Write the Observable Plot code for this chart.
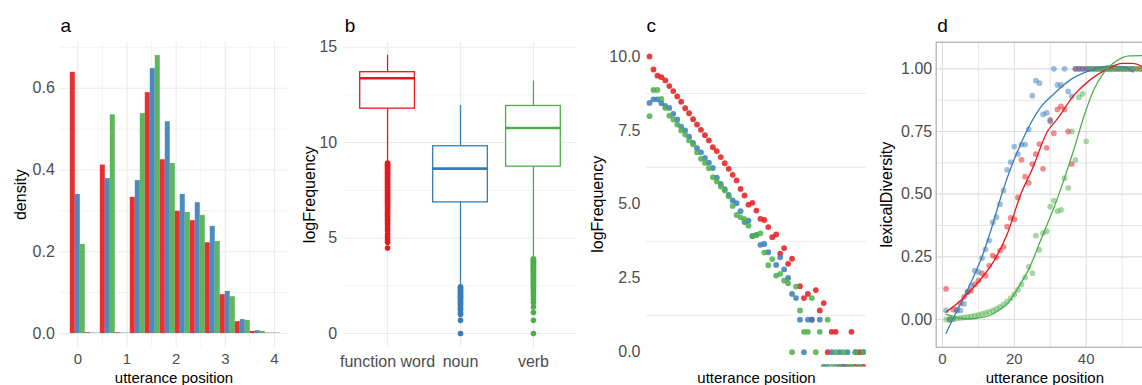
<!DOCTYPE html>
<html><head><meta charset="utf-8">
<script src="https://cdn.jsdelivr.net/npm/d3@7"></script>
<script src="https://cdn.jsdelivr.net/npm/@observablehq/plot@0.6"></script>
<style>
html,body{margin:0;padding:0;background:#fff;overflow:hidden;}
#chart{position:relative;width:1142px;height:385px;overflow:hidden;background:#fff;}
#chart svg{position:absolute;top:0;max-width:none;}
</style></head><body><div id="chart"></div>
<script>
// ---------- shared ----------
const categories = ["function word", "noun", "verb"];
const colors = ["#E41A1C", "#377EB8", "#4DAF4A"];

// ---------- panel a : density histogram ----------
const binCenters = [0, 0.305, 0.61, 0.915, 1.22, 1.525, 1.83, 2.135, 2.44, 2.745, 3.05, 3.355, 3.66, 3.965];
const binWidth = 0.305;
const densFunctionWord = [0.639, 0.002, 0.412, 0.002, 0.333, 0.589, 0.425, 0.299, 0.276, 0.222, 0.095, 0.029, 0.005, 0.001];
const densNoun         = [0.340, 0.001, 0.379, 0.001, 0.374, 0.648, 0.518, 0.340, 0.320, 0.262, 0.103, 0.034, 0.007, 0.001];
const densVerb         = [0.218, 0.001, 0.535, 0.001, 0.538, 0.680, 0.416, 0.296, 0.289, 0.225, 0.090, 0.032, 0.005, 0.001];
const aXTicks = [0, 1, 2, 3, 4];
const aYTicks = [0, 0.2, 0.4, 0.6];

// ---------- panel b : boxplots ----------
const boxQ1 = [11.78, 6.87, 8.74];
const boxMedian = [13.37, 8.64, 10.77];
const boxQ3 = [13.69, 9.81, 11.92];
const whiskerLow = [9.0, 2.52, 4.0];
const whiskerHigh = [14.58, 11.94, 13.23];
const outliersFunctionWord = [8.93, 8.86, 8.8, 8.74, 8.67, 8.6, 8.52, 8.45, 8.38, 8.3, 8.22, 8.14, 8.06, 7.98, 7.9, 7.82, 7.74, 7.66, 7.58, 7.5, 7.42, 7.34, 7.26, 7.18, 7.1, 7.02, 6.94, 6.86, 6.78, 6.7, 6.6, 6.5, 6.4, 6.3, 6.2, 6.1, 6.0, 5.9, 5.78, 5.65, 5.5, 5.38, 5.2, 5.05, 4.9, 4.78, 4.48];
const outliersNoun = [2.45, 2.39, 2.33, 2.27, 2.2, 2.14, 2.08, 2.0, 1.95, 1.9, 1.83, 1.77, 1.7, 1.61, 1.55, 1.5, 1.39, 1.3, 1.25, 1.1, 1.0, 0.69, 0];
const outliersVerb = [3.92, 3.87, 3.82, 3.77, 3.71, 3.66, 3.6, 3.54, 3.48, 3.42, 3.36, 3.3, 3.23, 3.17, 3.1, 3.04, 2.97, 2.9, 2.83, 2.77, 2.7, 2.63, 2.56, 2.48, 2.4, 2.3, 2.2, 2.08, 1.95, 1.79, 1.61, 1.39, 1.1, 0.69, 0];
const bYTicks = [0, 5, 10, 15];

// ---------- panel c : logFrequency by utterance position ----------
const cPositions = d3.range(1, 56);
const cFunctionWord = [10.0, 9.56, 9.35, 9.3, 9.19, 9.0, 8.83, 8.65, 8.47, 8.25,
  8.08, 7.88, 7.7, 7.52, 7.34, 7.16, 6.93, 6.8, 6.6, 6.39,
  6.2, 6.0, 5.81, 5.52, 5.3, 4.99, 5.05, 4.79, 4.51, 4.47,
  4.23, 3.89, 3.98, 3.33, 3.52, 2.99, 3.16, null, 2.23, 1.83,
  1.97, 1.1, 2.1, 1.41, 1.66, 0, 0.69, 0.69, -Infinity, -Infinity,
  -Infinity, 0.69, -Infinity, 0, -Infinity];
const cNoun = [8.43, 8.55, 8.55, 8.42, 8.33, 8.26, 8.06, 7.87, 7.63, 7.5,
  7.29, 7.08, 6.9, 6.76, 6.57, 6.41, 6.23, 5.9, 5.69, 5.51,
  5.32, 5.13, 5.04, 4.77, 4.4, 4.45, 3.93, 3.97, 3.63, 3.66,
  3.38, null, 2.95, 3.21, 2.8, 2.51, 1.97, 1.83, 1.1, 0,
  1.1, 1.1, null, 1.1, -Infinity, -Infinity, 0, -Infinity, 0, -Infinity,
  0, -Infinity, 0, -Infinity, 0];
const cVerb = [7.98, 8.87, 8.87, 8.57, 8.26, 8.0, 7.87, 7.7, 7.5, 7.36,
  7.16, 7.03, 6.76, 6.54, 6.4, 6.22, 5.92, 5.77, 5.6, 5.47,
  5.27, 4.94, 4.64, 4.56, 4.5, 4.28, 3.92, 3.96, 4.02, 3.37,
  2.94, 3.15, 2.59, 2.65, 2.42, 2.33, 0, 2.22, 1.41, 0.69,
  0.69, 1.83, 0, 0.69, -Infinity, 1.1, -Infinity, 0, -Infinity, 0,
  -Infinity, -Infinity, 0, -Infinity, 0];
const cYTicks = [0, 2.5, 5, 7.5, 10];
const cGridLines = [1.25, 3.75, 6.25, 8.75];

// ---------- panel d : lexical diversity ----------
const dPositions = d3.range(1, 57);
const dFunctionWord = [0.122, 0.0, 0.04, 0.038, 0.065, 0.09, 0.11, 0.115, 0.14, 0.155,
  0.185, 0.175, 0.215, 0.255, 0.248, 0.275, 0.29, 0.37, 0.405, 0.4,
  0.487, 0.637, 0.57, 0.545, 0.62, 0.66, 0.7, 0.601, 0.685, 0.796,
  0.743, 0.838, 0.85, 0.838, 0.75, 0.62, 1, 1, 1, 1,
  1, 1, 1, 1, 1, 1, 1, 1, 1, 1,
  1, 1, 1, 1, 1, 1];
const dNoun = [0.036, 0.0, 0.003, 0.036, 0.036, 0.062, 0.11, 0.135, 0.195, 0.19,
  0.245, 0.28, 0.315, 0.388, 0.408, 0.46, 0.515, 0.597, 0.628, 0.69,
  0.66, 0.698, 0.698, 0.758, 0.893, 0.953, 0.943, 0.818, 0.824, 0.79,
  1, 0.936, 0.936, 1, 0.91, 0.89, 1, 1, 1, 1,
  1, 1, 1, 1, 1, 1, 1, 1, 1, 1,
  1, 1, 1, null, null, null];
const dVerb = [0.0, 0.0, 0.002, 0.004, 0.006, 0.008, 0.01, 0.012, 0.015, 0.018,
  0.022, 0.026, 0.03, 0.036, 0.042, 0.05, 0.06, 0.072, 0.085, 0.1,
  0.118, 0.14, 0.168, 0.21, 0.185, 0.335, 0.278, 0.345, 0.352, 0.45,
  0.474, 0.432, 0.437, 0.564, 0.525, 0.75, 0.637, 0.887, 0.9, 0.711,
  1, 1, 1, 1, 1, 1, 1, 1, 1, 1,
  1, 1, 1, 1, 1, 1];
// smooth fits
const fitFunctionWordX = [1, 5, 10, 15, 18, 21.8, 25, 29.2, 32, 36.5, 41, 46, 50, 53, 56];
const fitFunctionWordY = [0.03, 0.075, 0.15, 0.25, 0.34, 0.5, 0.6, 0.75, 0.8, 0.893, 0.955, 1.0, 1.022, 1.022, 1.006];
const fitNounX = [1, 3, 6, 8, 11, 14, 16.5, 20, 23.4, 27, 31, 36, 41, 47, 51, 53];
const fitNounY = [-0.055, 0.005, 0.09, 0.15, 0.25, 0.38, 0.5, 0.64, 0.75, 0.84, 0.9, 0.96, 0.993, 1.012, 1.006, 0.987];
const fitVerbX = [1, 4, 7, 10, 13, 16, 18, 21, 24, 28, 31, 34, 36.5, 39.3, 42, 45, 48.6, 52, 55.5];
const fitVerbY = [0.02, 0.008, 0.002, 0.006, 0.015, 0.04, 0.062, 0.125, 0.2, 0.34, 0.445, 0.565, 0.674, 0.807, 0.913, 0.986, 1.033, 1.052, 1.053];
const dXTicks = [0, 20, 40];
const dYTicks = [0, 0.25, 0.5, 0.75, 1];

// ---------- helpers ----------
const FONT = "'Liberation Sans', Arial, Helvetica, sans-serif";
const GRID = "#EBEBEB";
const TICK = "#4D4D4D";
const XTICK_FS = 15, XTICK_PAD = 6.5;
const XTITLE_FS = 15;
const st = () => ({fontFamily: FONT, fontSize: "16px", background: "transparent", color: "black", overflow: "visible"});
const colorScale = {domain: categories, range: colors};
const yTitle = (t, dx) => Plot.text([t], {frameAnchor: "left", dx, rotate: -90, textAnchor: "middle", lineAnchor: "middle", fontSize: 16, fill: "black"});
const xTitle = (t, dy) => Plot.text([t], {frameAnchor: "bottom", dy, textAnchor: "middle", lineAnchor: "middle", fontSize: XTITLE_FS, fill: "black"});
const tag = (t, dy, dx = 0) => Plot.text([t], {frameAnchor: "top-left", dx, dy, textAnchor: "start", lineAnchor: "middle", fontSize: 19, fill: "black"});
const container = document.getElementById("chart");
function place(svg, left) { svg.style.left = left + "px"; svg.style.top = "0px"; container.append(svg); }

// ---------- panel a ----------
{
  const series = [densFunctionWord, densNoun, densVerb];
  const rows = [];
  binCenters.forEach((c, k) => series.forEach((s, i) => rows.push({
    x1: c - binWidth / 2 + i * binWidth / 3,
    x2: c - binWidth / 2 + (i + 1) * binWidth / 3,
    v: s[k], cat: categories[i]})));
  place(Plot.plot({
    width: 290, height: 385, marginLeft: 60, marginRight: 3, marginTop: 41.7, marginBottom: 38.3,
    style: st(),
    x: {domain: [-0.352, 4.265], axis: null},
    y: {domain: [-0.0335, 0.7126], axis: null},
    color: colorScale,
    marks: [
      Plot.gridX([0.5, 1.5, 2.5, 3.5], {stroke: GRID, strokeOpacity: 1, strokeWidth: 0.6}),
      Plot.gridX(aXTicks, {stroke: GRID, strokeOpacity: 1, strokeWidth: 1.1}),
      Plot.gridY([0.1, 0.3, 0.5, 0.7], {stroke: GRID, strokeOpacity: 1, strokeWidth: 0.6}),
      Plot.gridY(aYTicks, {stroke: GRID, strokeOpacity: 1, strokeWidth: 1.1}),
      Plot.rect(rows, {x1: "x1", x2: "x2", y1: 0, y2: "v", fill: "cat", fillOpacity: 0.9}),
      Plot.axisX(aXTicks, {tickSize: 0, tickPadding: XTICK_PAD, color: TICK, fontSize: XTICK_FS, label: null}),
      Plot.axisY(aYTicks, {tickSize: 0, tickPadding: 5.7, color: TICK, fontSize: 16, label: null, tickFormat: d3.format(".1f")}),
      yTitle("density", -40),
      xTitle("utterance position", 31.1),
      tag("a", -15.8)
    ]
  }), 0);
}

// ---------- panel b ----------
{
  const rows = categories.map((cat, i) => ({pos: i + 1, cat, q1: boxQ1[i], med: boxMedian[i], q3: boxQ3[i], lo: whiskerLow[i], hi: whiskerHigh[i]}));
  const outs = [];
  [outliersFunctionWord, outliersNoun, outliersVerb].forEach((arr, i) => arr.forEach(v => outs.push({pos: i + 1, v, cat: categories[i]})));
  place(Plot.plot({
    width: 290, height: 385, marginLeft: 53.3, marginRight: 3.3, marginTop: 41.7, marginBottom: 38.3,
    style: st(),
    x: {domain: [0.4, 3.6], axis: null},
    y: {domain: [-0.718, 15.262], axis: null},
    color: colorScale,
    marks: [
      Plot.gridY([2.5, 7.5, 12.5], {stroke: GRID, strokeOpacity: 1, strokeWidth: 0.6}),
      Plot.gridY(bYTicks, {stroke: GRID, strokeOpacity: 1, strokeWidth: 1.1}),
      Plot.gridX([1, 2, 3], {stroke: GRID, strokeOpacity: 1, strokeWidth: 1.1}),
      Plot.ruleX(rows, {x: "pos", y1: "q3", y2: "hi", stroke: "cat", strokeWidth: 1.3}),
      Plot.ruleX(rows, {x: "pos", y1: "lo", y2: "q1", stroke: "cat", strokeWidth: 1.3}),
      Plot.rect(rows, {x1: d => d.pos - 0.375, x2: d => d.pos + 0.375, y1: "q1", y2: "q3", fill: "white", stroke: "cat", strokeWidth: 1.3}),
      Plot.ruleY(rows, {y: "med", x1: d => d.pos - 0.375, x2: d => d.pos + 0.375, stroke: "cat", strokeWidth: 2.6}),
      Plot.dot(outs, {x: "pos", y: "v", r: 2.8, fill: "cat", stroke: null}),
      Plot.axisX([1, 2, 3], {tickSize: 0, tickPadding: 8, color: TICK, fontSize: 16, label: null, tickFormat: i => categories[i - 1]}),
      Plot.axisY(bYTicks, {tickSize: 0, tickPadding: 6.6, color: TICK, fontSize: 16, label: null}),
      yTitle("logFrequency", -34.3),
      tag("b", -15.8, 1)
    ]
  }), 290);
}

// ---------- panel c ----------
{
  const series = [cFunctionWord, cNoun, cVerb];
  const pts = [];
  series.forEach((s, i) => s.forEach((v, k) => {
    if (v === null) return;
    pts.push({x: cPositions[k], y: v === -Infinity ? -0.5 : v, cat: categories[i]});
  }));
  place(Plot.plot({
    width: 290, height: 385, marginLeft: 66, marginRight: 4, marginTop: 41.2, marginBottom: 18.5,
    style: st(),
    x: {domain: [0.24, 55.8], axis: null},
    y: {domain: [-0.5, 10.5], axis: null},
    color: colorScale,
    marks: [
      Plot.gridY(cGridLines, {stroke: GRID, strokeOpacity: 1, strokeWidth: 1.1}),
      Plot.dot(pts, {x: "x", y: "y", r: 2.9, fill: "cat", fillOpacity: 0.85, stroke: null, clip: true}),
      Plot.axisY(cYTicks, {tickSize: 0, tickPadding: 6, color: TICK, fontSize: 16, label: null, tickFormat: d3.format(".1f")}),
      yTitle("logFrequency", -49),
      xTitle("utterance position", 11.3),
      tag("c", -15.3)
    ]
  }), 580);
}

// ---------- panel d ----------
{
  const series = [dFunctionWord, dNoun, dVerb];
  const pts = [];
  series.forEach((s, i) => s.forEach((v, k) => { if (v !== null) pts.push({x: dPositions[k], y: v, cat: categories[i]}); }));
  const fits = [];
  [[fitNounX, fitNounY, 1], [fitFunctionWordX, fitFunctionWordY, 0], [fitVerbX, fitVerbY, 2]].forEach(([xs, ys, i]) =>
    xs.forEach((x, k) => fits.push({x, y: ys[k], cat: categories[i]})));
  place(Plot.plot({
    width: 283, height: 385, marginLeft: 65.7, marginRight: 0, marginTop: 41.7, marginBottom: 38.3,
    style: st(),
    x: {domain: [-1.75, 58.75], axis: null},
    y: {domain: [-0.1105, 1.1063], axis: null},
    color: colorScale,
    marks: [
      Plot.gridX([10, 30, 50], {stroke: "#DEDEDE", strokeOpacity: 1, strokeWidth: 0.8}),
      Plot.gridX(dXTicks, {stroke: "#DEDEDE", strokeOpacity: 1, strokeWidth: 1.1}),
      Plot.gridY([0.125, 0.375, 0.625, 0.875], {stroke: "#DEDEDE", strokeOpacity: 1, strokeWidth: 0.8}),
      Plot.gridY(dYTicks, {stroke: "#DEDEDE", strokeOpacity: 1, strokeWidth: 1.1}),
      Plot.dot(pts, {x: "x", y: "y", r: 2.9, fill: "cat", fillOpacity: 0.5, stroke: null, clip: true}),
      Plot.line(fits, {x: "x", y: "y", z: "cat", stroke: "cat", strokeWidth: 1.3, curve: "monotone-x", clip: true}),
      Plot.frame({stroke: "#B3B3B3", strokeWidth: 1.3}),
      Plot.axisX(dXTicks, {tickSize: 0, tickPadding: XTICK_PAD, color: TICK, fontSize: XTICK_FS, label: null}),
      Plot.axisY(dYTicks, {tickSize: 0, tickPadding: 4, color: TICK, fontSize: 16, label: null, tickFormat: d3.format(".2f")}),
      yTitle("lexicalDiversity", -49.7),
      xTitle("utterance position", 31.1),
      tag("d", -15.8, 1)
    ]
  }), 870);
}
</script></body></html>
